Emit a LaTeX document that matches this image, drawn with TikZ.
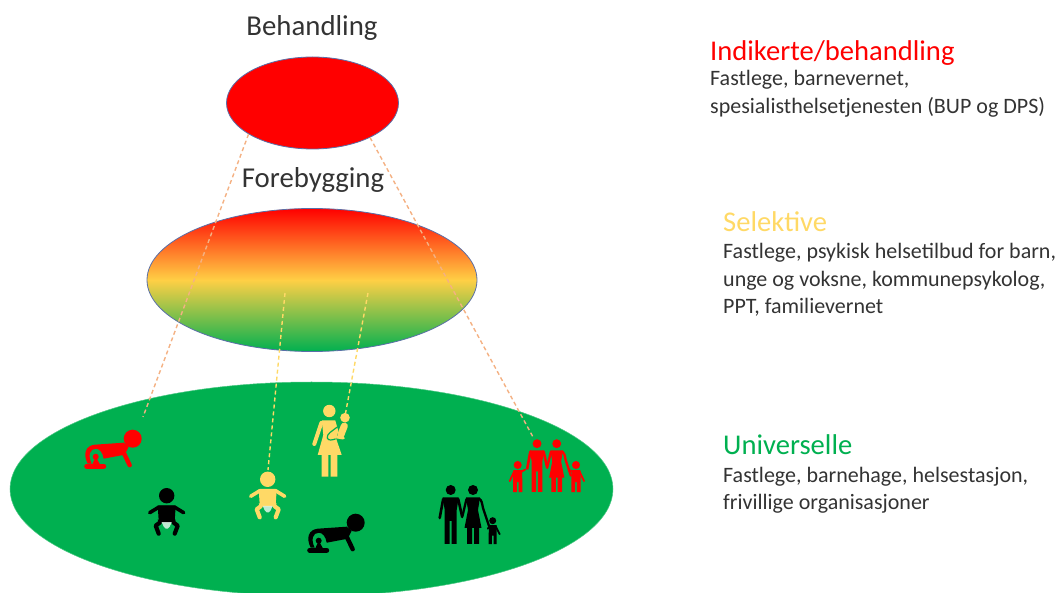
\documentclass[tikz,border=0pt]{standalone}
\usepackage{fontspec}
\setmainfont{Carlito}
\usetikzlibrary{shapes.geometric}
\definecolor{gr}{HTML}{00B050}
\definecolor{yl}{HTML}{FFD966}
\definecolor{mid}{HTML}{FFCF45}
\definecolor{orl}{HTML}{F4B183}
\definecolor{edge}{HTML}{5A6FA8}
\definecolor{txt}{HTML}{333333}
\tikzset{
  oval/.style={ellipse,inner sep=0pt,draw=edge,line width=0.8pt},
  heading/.style={font=\fontsize{28.8}{32}\selectfont,text=txt,inner sep=0pt,anchor=base},
  cat/.style={font=\fontsize{28.6}{32}\selectfont,inner sep=0pt,anchor=base west},
  body/.style={font=\fontsize{22}{27.5}\selectfont,text=txt,inner sep=0pt,anchor=north west,align=left},
  link/.style={dashed,dash pattern=on 4pt off 3pt,line width=1.4pt},
  ic/.style={line cap=round,line join=round},
  pics/baby/.style={code={
    \fill (0,0) circle (7.7);
    \fill (-9,10) -- (9,10) -- (8,25) -- (-8,25) -- cycle;
    \draw[ic,line width=3.6pt] (-17,17) -- (-8,11.5) -- (8,11.5) -- (17,17);
    \draw[ic,line width=4.2pt] (-7,27) -- (-11,30) -- (-8,38);
    \draw[ic,line width=4.2pt] (7,27) -- (11,30) -- (8,38);
    \fill (-9,24) -- (9,24) -- (8,27) -- (-8,27) -- cycle;
    \fill[white,opacity=.75] (-5,26.5) -- (5,26.5) -- (3,31) -- (1,33) -- (-1,33) -- (-3,31) -- cycle;
  }},
  pics/crawler/.style={code={
    \fill (0,0) circle (9);
    \fill (-9,4) -- (-38,6) .. controls (-47,7) and (-50,15) .. (-45,25) -- (-41,25)
      .. controls (-45,17) and (-43,10) .. (-37,10) .. controls (-33,10) and (-30,14) .. (-29,20) -- (-8,16) -- (-4,8) -- cycle;
    \draw[ic,line width=4.4pt] (-9,14) -- (-3,26.5);
    \draw[ic,line width=5pt] (-46,27.5) -- (-29,27.5);
    \fill (-37,18) circle (3);
    \fill (-41,27) -- (-37,18) -- (-32,27) -- cycle;
  }},
  pics/man/.style={code={
    \fill (0,0) circle (5);
    \fill (-8,7.5) -- (8,7.5) -- (6,20) -- (6,54) -- (1,54) -- (1,31) -- (-1,31) -- (-1,54) -- (-6,54) -- (-6,20) -- cycle;
    \draw[ic,line width=2.6pt] (-7.5,9) -- (-11,28);
    \draw[ic,line width=2.6pt] (7.5,9) -- (11.5,27);
  }},
  pics/woman/.style={code={
    \fill (0,0) circle (5);
    \fill (-7,7.5) -- (7,7.5) -- (5,20) -- (8.5,38) -- (6,38) -- (6,54) -- (1,54) -- (1,38) -- (-1,38) -- (-1,54) -- (-6,54) -- (-6,38) -- (-8.5,38) -- (-5,20) -- cycle;
    \draw[ic,line width=2.3pt] (-6.5,9) -- (-10.5,26);
    \draw[ic,line width=2.3pt] (6.5,9) .. controls (8.5,10) and (9,13) .. (10,18) -- (16,36);
  }},
  pics/kid/.style={code={
    \fill (0,0) circle (3.5);
    \fill (-3.8,4.5) -- (3.8,4.5) -- (4,14) -- (4,23.5) -- (0.8,23.5) -- (0.8,15) -- (-0.8,15) -- (-0.8,23.5) -- (-4,23.5) -- (-4,14) -- cycle;
    \draw[ic,line width=1.8pt] (-3,5.5) -- (-5,8);
    \draw[ic,line width=1.8pt] (3,5.5) -- (7,13.5);
  }},
  pics/kidup/.style={code={
    \fill (0,0) circle (3.5);
    \fill (-3.8,4.5) -- (3.8,4.5) -- (4,14) -- (4,23.5) -- (0.8,23.5) -- (0.8,15) -- (-0.8,15) -- (-0.8,23.5) -- (-4,23.5) -- (-4,14) -- cycle;
    \draw[ic,line width=1.8pt] (-3,5.5) -- (-7,14);
    \draw[ic,line width=1.8pt] (3,6) -- (6.5,4);
  }},
  pics/mother/.style={code={
    \fill (0,0) circle (6.2);
    \fill (-7.5,9.5) -- (6,9.5) -- (9,20) -- (7,28) -- (12.4,44) -- (8,44) -- (8,65.7) -- (1.3,65.7) -- (1.3,44) -- (-1,44) -- (-1,65.7) -- (-7.6,65.7) -- (-7.6,44) -- (-11.6,44) -- (-6,24) -- cycle;
    \draw[ic,line width=4pt] (-8,12) -- (-15,33);
    \fill (15.7,6.7) circle (4.8);
    \draw[ic,line width=7pt] (15,15) -- (11.5,24);
    \draw[ic,line width=3pt] (8,26) -- (14,27);
    \draw[ic,line width=1.2pt,gr] (8,16) .. controls (3,20) and (-3,23) .. (-2,27) .. controls (-1,30) and (3,29) .. (6,28);
  }},
}
\begin{document}
\begin{tikzpicture}[x=1pt,y=-1pt]
\clip (0,0) rectangle (1061,593);
\node[ellipse,inner sep=0pt,fill=gr,draw=gr!70!white,line width=0.5pt,minimum width=603pt,minimum height=214pt] (uni) at (311.5,489) {};
\node[oval,fill=red,minimum width=172pt,minimum height=92pt] (beh) at (312.5,103) {};
\node[oval,top color=red,bottom color=gr,middle color=mid,minimum width=330pt,minimum height=143pt] (sel) at (312,280) {};
\pic[red,fill=red,draw=red] at (132.7,438.7) {crawler};
\pic[black,fill=black,draw=black] at (355.7,522.7) {crawler};
\pic[black,fill=black,draw=black] at (166.7,495.7) {baby};
\pic[yl,fill=yl,draw=yl] at (267.7,479.3) {baby};
\pic[yl,fill=yl,draw=yl] at (329.3,411) {mother};
\pic[black,fill=black,draw=black] at (450.7,490) {man};
\pic[black,fill=black,draw=black] at (473,490) {woman};
\pic[black,fill=black,draw=black] at (492.7,520.7) {kid};
\pic[red,fill=red,draw=red,scale=.89] at (537,443.7) {man};
\pic[red,fill=red,draw=red,scale=.89] at (556.7,443.7) {woman};
\pic[red,fill=red,draw=red,scale=1.15] at (517.7,465) {kidup};
\pic[red,fill=red,draw=red,xscale=-1.15,yscale=1.15] at (576,465) {kidup};
\coordinate (crawlRed) at (143,417);
\coordinate (famRed) at (533,437);
\coordinate (yA) at (285,293);
\coordinate (babyY) at (268,470);
\coordinate (yB) at (368,293);
\coordinate (momY) at (345,416);
\draw[link,orl] (beh.206) -- (crawlRed);
\draw[link,orl] (beh.329) -- (famRed);
\draw[link,yl] (yA) -- (babyY);
\draw[link,yl] (yB) -- (momY);
\node[heading] (t1) at (312,36) {Behandling};
\node[heading] (t2) at (313,188) {Forebygging};
\node[cat,text=red] (c1) at (710,61) {Indikerte/behandling};
\node[body] (b1) at (710,70) {Fastlege, barnevernet,\\[0.5pt]spesialisthelsetjenesten (BUP og DPS)};
\node[cat,text=yl] (c2) at (723,232) {Selektive};
\node[body] (b2) at (723,243.5) {Fastlege, psykisk helsetilbud for barn,\\unge og voksne, kommunepsykolog,\\PPT, familievernet};
\node[cat,text=gr] (c3) at (723,455) {Universelle};
\node[body] (b3) at (723,467.5) {Fastlege, barnehage, helsestasjon,\\[-1pt]frivillige organisasjoner};
\end{tikzpicture}
\end{document}
